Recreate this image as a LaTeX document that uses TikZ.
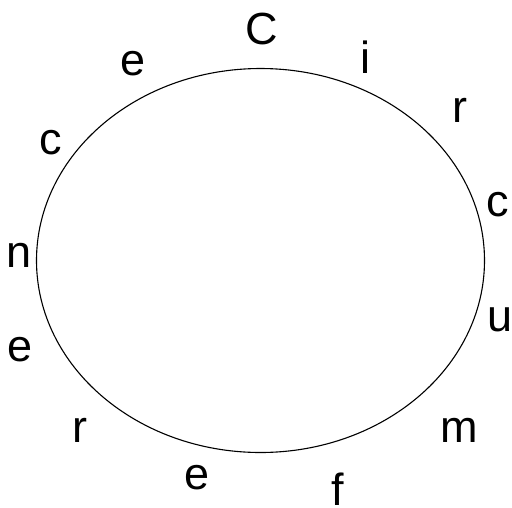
\documentclass[tikz,border=0pt]{standalone}
\usepackage{fontspec}
\setmainfont{Liberation Sans}
\usepackage{tikz}

\begin{document}
\begin{tikzpicture}[x=1pt,y=-1pt,
  letter/.style={inner sep=0pt,font=\fontsize{45}{54}\selectfont}]
  \useasboundingbox (0,0) rectangle (512,507);
  \draw[line width=1.1pt] (260.5,260.5) ellipse (224 and 192);
  \node[letter] (C)  at (262,29)  {C};
  \node[letter] (i)  at (365,57)  {i};
  \node[letter] (r1) at (460,110) {r};
  \node[letter] (c1) at (498,205) {c};
  \node[letter] (u)  at (500,320) {u};
  \node[letter] (m)  at (459,430) {m};
  \node[letter] (f)  at (338,489) {f};
  \node[letter] (e1) at (197,478) {e};
  \node[letter] (r2) at (80,430)  {r};
  \node[letter] (e2) at (20,350)  {e};
  \node[letter] (n)  at (19,255)  {n};
  \node[letter] (c2) at (51,143)  {c};
  \node[letter] (e3) at (133,64)  {e};
\end{tikzpicture}
\end{document}
